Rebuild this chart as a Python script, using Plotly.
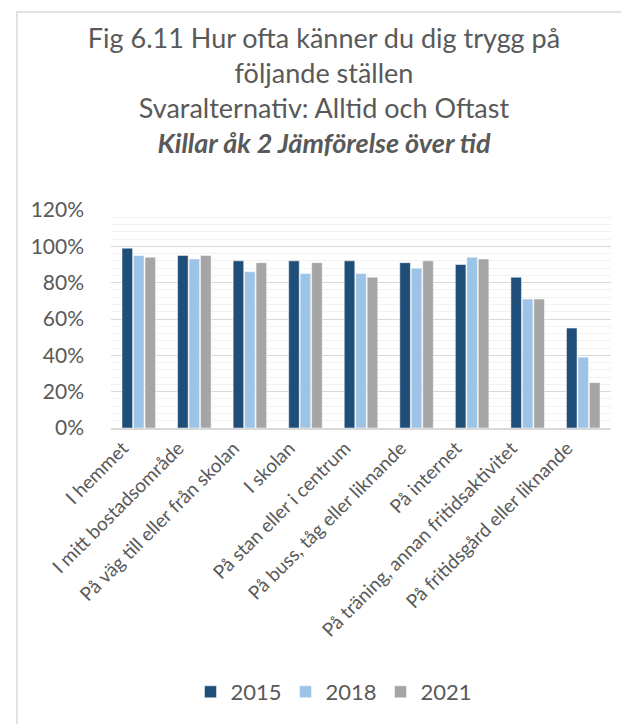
import plotly.graph_objects as go

places = [
    "I hemmet",
    "I mitt bostadsområde",
    "På väg till eller från skolan",
    "I skolan",
    "På stan eller i centrum",
    "På buss, tåg eller liknande",
    "På internet",
    "På träning, annan fritidsaktivitet",
    "På fritidsgård eller liknande",
]
years = ["2015", "2018", "2021"]
values_2015 = [0.99, 0.95, 0.92, 0.92, 0.92, 0.91, 0.90, 0.83, 0.55]
values_2018 = [0.95, 0.93, 0.86, 0.85, 0.85, 0.88, 0.94, 0.71, 0.39]
values_2021 = [0.94, 0.95, 0.91, 0.91, 0.83, 0.92, 0.93, 0.71, 0.25]
colors = ["#1F4E79", "#9DC3E6", "#A5A5A5"]

W, H = 629, 724
# plot area in pixels
L, R, T, B = 103, 603, 202, 420
TEXT = "#595959"
FONT = "Lato, Open Sans, sans-serif"

fig = go.Figure()
for year, vals, col in zip(years, [values_2015, values_2018, values_2021], colors):
    fig.add_trace(
        go.Bar(
            x=places,
            y=vals,
            name=year,
            marker=dict(color=col, line=dict(color="white", width=0.5)),
        )
    )

# chart frame (runs past the right/bottom edge like the reference crop)
pw, ph = R - L, B - T
fig.add_shape(
    type="rect",
    xref="paper",
    yref="paper",
    x0=(9 - L) / pw,
    x1=(638 - L) / pw,
    y0=(B - (H + 20)) / ph,
    y1=(B - 4) / ph,
    line=dict(color="#D9D9D9", width=1.5),
    fillcolor="rgba(0,0,0,0)",
    layer="below",
)

fig.update_layout(
    width=W,
    height=H,
    margin=dict(l=L, r=W - R, t=T, b=H - B, autoexpand=False),
    paper_bgcolor="white",
    plot_bgcolor="white",
    font=dict(family=FONT, color=TEXT),
    title=dict(
        text="Fig 6.11 Hur ofta känner du dig trygg på<br>följande ställen<br>"
        "Svaralternativ: Alltid och Oftast<br><b><i>Killar åk 2 Jämförelse över tid</i></b>",
        x=316 / W,
        xanchor="center",
        y=1 - 40 / H,
        yanchor="top",
        font=dict(size=27, color=TEXT, family=FONT),
    ),
    barmode="group",
    bargap=0.38,
    bargroupgap=0.08,
    showlegend=True,
    legend=dict(
        orientation="h",
        x=(325 - L) / pw,
        xanchor="center",
        y=(B - 684) / ph,
        yanchor="middle",
        font=dict(size=22, color=TEXT, family=FONT),
        itemwidth=30,
        entrywidth=50,
    ),
)

fig.update_yaxes(
    range=[0, 1.2],
    dtick=0.2,
    tickformat=".0%",
    tickfont=dict(size=21, color=TEXT, family=FONT),
    ticklabelstandoff=26,
    gridcolor="#D9D9D9",
    gridwidth=1,
    zeroline=False,
    showline=False,
    ticks="",
    minor=dict(dtick=0.04, showgrid=True, gridcolor="#F2F2F2", gridwidth=1),
)

fig.update_xaxes(
    tickangle=-45,
    tickfont=dict(size=19, color=TEXT, family=FONT),
    ticklabelshift=-16,
    showline=True,
    linecolor="#D9D9D9",
    linewidth=1.5,
    ticks="",
    automargin=False,
)

fig.write_html("out.html")
